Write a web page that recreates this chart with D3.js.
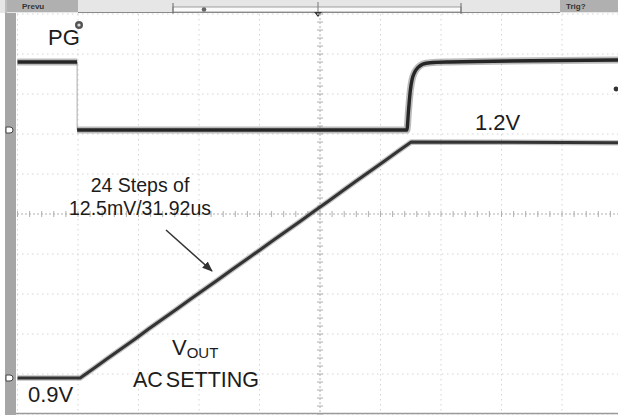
<!DOCTYPE html>
<html>
<head>
<meta charset="utf-8">
<script src="https://cdn.jsdelivr.net/npm/d3@7/dist/d3.min.js"></script>
<style>
html,body{margin:0;padding:0;background:#fff;}
svg{display:block;}
text{font-family:"Liberation Sans",Arial,Helvetica,sans-serif;}
</style>
</head>
<body>
<div id="chart"></div>
<script>
// ---- data (time in microseconds, Vout in volts, PG as logic level 0..1) ----
const timeDomain = [0, 1400];          // 10 divisions of ~140 us
const gridDivisionsX = [0,1,2,3,4,5,6,7,8,9,10];
const gridDivisionsY = [0,1,2,3,4,5,6,7,8,9,10];

// Vout staircase: 24 steps of 12.5 mV every ~31.92 us
const stepTimes = [145,177,209,241,273,304,336,368,400,432,464,496,528,560,592,624,656,688,720,751,783,815,847,879,911];
const stepVolts = [0.9,0.9125,0.925,0.9375,0.95,0.9625,0.975,0.9875,1.0,1.0125,1.025,1.0375,1.05,1.0625,1.075,1.0875,1.1,1.1125,1.125,1.1375,1.15,1.1625,1.175,1.1875,1.2];
const voutStartTime = 0;
const voutEndTime = 1400;
const voutEndLevel = 1.199;

// PG trace
const pgHighTimes  = [0, 138];
const pgHighLevels = [1, 1];
const pgEdgeTime = 138;
const pgRestTimes  = [138, 901, 905, 909, 913, 919, 927, 938, 955, 1000, 1400];
const pgRestLevels = [0,   0,   0.3, 0.58, 0.74, 0.85, 0.92, 0.97, 0.99, 1.0, 1.03];

// annotation labels
const labels = {
  pg: "PG", v12: "1.2V", v09: "0.9V",
  steps1: "24 Steps of", steps2: "12.5mV/31.92us",
  vout: "V", voutSub: "OUT", ac: "AC SETTING"
};

// ---- drawing ----
const W = 618, H = 415;
const svg = d3.select("#chart").append("svg").attr("width", W).attr("height", H);

const x = d3.scaleLinear().domain(timeDomain).range([17.5, 622.5]);
const yV = d3.scaleLinear().domain([0.9, 1.2]).range([378, 142]);
const yPG = d3.scaleLinear().domain([0, 1]).range([130, 62]);
const gx = d3.scaleLinear().domain([0, 10]).range([17.5, 622.5]);
const gy = d3.scaleLinear().domain([0, 10]).range([14, 414]);

// header strip
svg.append("rect").attr("x",0).attr("y",0).attr("width",W).attr("height",13).attr("fill","#e6e6e6");
svg.append("rect").attr("x",7).attr("y",0).attr("width",71).attr("height",12).attr("fill","#b0b0b0");
svg.append("rect").attr("x",560).attr("y",0).attr("width",58).attr("height",12).attr("fill","#b0b0b0");
svg.append("text").attr("x",22).attr("y",9).attr("font-size",8).attr("font-weight","bold").attr("fill","#333").text("Prevu");
svg.append("text").attr("x",566).attr("y",9).attr("font-size",8).attr("font-weight","bold").attr("fill","#333").text("Trig?");
svg.append("line").attr("x1",78).attr("x2",560).attr("y1",12.5).attr("y2",12.5).attr("stroke","#888").attr("stroke-width",1.2);
svg.append("rect").attr("x",173).attr("y",7).attr("width",288).attr("height",5).attr("fill","#fafafa").attr("stroke","#8a8a8a").attr("stroke-width",0.8);
[173, 461].forEach(v => svg.append("line").attr("x1",v).attr("x2",v).attr("y1",3).attr("y2",14).attr("stroke","#666").attr("stroke-width",1));
svg.append("circle").attr("cx",204).attr("cy",9.5).attr("r",2.3).attr("fill","#666");
svg.append("line").attr("x1",318).attr("x2",318).attr("y1",2).attr("y2",12).attr("stroke","#777").attr("stroke-width",1);
svg.append("path").attr("d","M314,12 L322,12 L318,17 Z").attr("fill","#333");

// grid
const grid = svg.append("g");
gridDivisionsX.forEach(d => {
  const c = d === 5;
  grid.append("line").attr("x1",gx(d)).attr("x2",gx(d)).attr("y1",14).attr("y2",413)
    .attr("stroke", c ? "#b0b0b0" : "#d4d4d4").attr("stroke-width",1)
    .attr("stroke-dasharray", c ? "2,2" : "1.5,3.5");
});
gridDivisionsY.forEach(d => {
  const c = d === 5;
  grid.append("line").attr("x1",17).attr("x2",W).attr("y1",gy(d)).attr("y2",gy(d))
    .attr("stroke", c ? "#b0b0b0" : "#d4d4d4").attr("stroke-width",1)
    .attr("stroke-dasharray", c ? "2,2" : "1.5,3.5");
});
// minor ticks on centre lines
d3.range(0, 10.01, 0.2).forEach(d => {
  grid.append("line").attr("x1",gx(d)).attr("x2",gx(d)).attr("y1",gy(5)-3).attr("y2",gy(5)+3).attr("stroke","#b0b0b0");
  grid.append("line").attr("y1",gy(d)).attr("y2",gy(d)).attr("x1",gx(5)-3).attr("x2",gx(5)+3).attr("stroke","#b0b0b0");
});
// bottom border
svg.append("line").attr("x1",16).attr("x2",W).attr("y1",413.5).attr("y2",413.5).attr("stroke","#9a9a9a").attr("stroke-width",1.5);

// left bar
svg.append("rect").attr("x",5).attr("y",13).attr("width",11).attr("height",402).attr("fill","#a6a6a6");
svg.append("rect").attr("x",5).attr("y",0).attr("width",2).attr("height",13).attr("fill","#bdbdbd");

// Vout (step corners, drawn as the filtered ramp)
const voutPts = [[voutStartTime, stepVolts[0]]]
  .concat(stepTimes.map((t,i) => [t, stepVolts[i]]))
  .concat([[voutEndTime, voutEndLevel]]);
const vPath = d3.line().x(d => x(d[0])).y(d => yV(d[1]));
svg.append("path").attr("d", vPath(voutPts)).attr("fill","none").attr("stroke","#777").attr("stroke-width",5.5).attr("opacity",0.45).attr("stroke-linejoin","round");
svg.append("path").attr("d", vPath(voutPts)).attr("fill","none").attr("stroke","#333").attr("stroke-width",3).attr("stroke-linejoin","round");

// PG
const pgHigh = pgHighTimes.map((t,i) => [t, pgHighLevels[i]]);
const pgRest = pgRestTimes.map((t,i) => [t, pgRestLevels[i]]);
const pgCurve = d3.line().x(d => x(d[0])).y(d => yPG(d[1])).curve(d3.curveMonotoneX);
svg.append("line").attr("x1",x(pgEdgeTime)).attr("x2",x(pgEdgeTime)).attr("y1",yPG(1)).attr("y2",yPG(0)).attr("stroke","#aaa").attr("stroke-width",1);
[pgHigh, pgRest].forEach(seg => {
  svg.append("path").attr("d", pgCurve(seg)).attr("fill","none").attr("stroke","#666").attr("stroke-width",7).attr("opacity",0.45);
  svg.append("path").attr("d", pgCurve(seg)).attr("fill","none").attr("stroke","#262626").attr("stroke-width",3.4);
});

// channel markers on left bar
[yPG(0), yV(0.9)].forEach(yy => {
  svg.append("path").attr("d",`M6,${yy-3} L10,${yy-3} A3,3 0 0 1 10,${yy+3} L6,${yy+3} Z`)
    .attr("fill","#fff").attr("stroke","#444").attr("stroke-width",1);
});
// small marker on right
svg.append("circle").attr("cx",616).attr("cy",89).attr("r",2.4).attr("fill","#333");

// labels
const tc = "#1c1c1c";
svg.append("text").attr("x",48).attr("y",45).attr("font-size",22).attr("fill",tc).text(labels.pg);
svg.append("circle").attr("cx",79).attr("cy",25).attr("r",4).attr("fill","#555");
svg.append("circle").attr("cx",79).attr("cy",25).attr("r",1.6).attr("fill","#ddd");
svg.append("text").attr("x",475).attr("y",130).attr("font-size",22).attr("fill",tc).text(labels.v12);
svg.append("text").attr("x",28).attr("y",402).attr("font-size",22).attr("fill",tc).text(labels.v09);
svg.append("text").attr("x",140).attr("y",192).attr("font-size",19.5).attr("text-anchor","middle").attr("fill",tc).text(labels.steps1);
svg.append("text").attr("x",140).attr("y",215).attr("font-size",19.5).attr("text-anchor","middle").attr("fill",tc).text(labels.steps2);
const vt = svg.append("text").attr("x",172).attr("y",355).attr("font-size",22).attr("fill",tc);
vt.append("tspan").text(labels.vout);
vt.append("tspan").attr("font-size",15).attr("dy",3).text(labels.voutSub);
svg.append("text").attr("x",133).attr("y",387).attr("font-size",21.5).attr("fill",tc).attr("word-spacing",-3).text(labels.ac);

// arrow
svg.append("defs").append("marker").attr("id","ah").attr("viewBox","0 0 10 10").attr("refX",9).attr("refY",5)
  .attr("markerWidth",7).attr("markerHeight",7).attr("orient","auto")
  .append("path").attr("d","M0,1 L10,5 L0,9 Z").attr("fill","#333");
svg.append("line").attr("x1",166).attr("y1",230).attr("x2",212).attr("y2",271)
  .attr("stroke","#333").attr("stroke-width",1.5).attr("marker-end","url(#ah)");
</script>
</body>
</html>
